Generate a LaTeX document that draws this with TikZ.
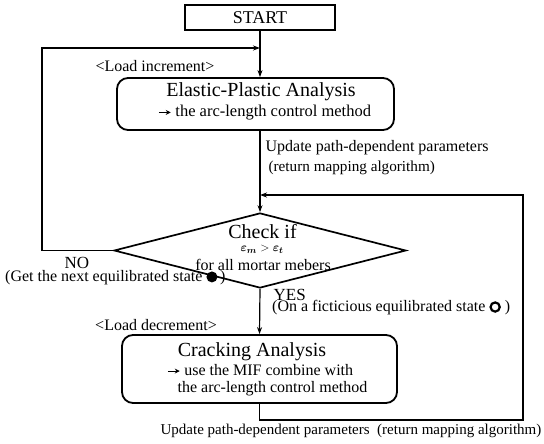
\documentclass[tikz,border=0pt]{standalone}
\usepackage{fontspec}
\setmainfont{Liberation Serif}
\usepackage{amsmath}
\usetikzlibrary{shapes.geometric,arrows.meta}
\newcommand{\myrarr}{\tikz[baseline=-0.6ex]\draw[line width=1.1pt,-{Stealth[length=5pt,width=5pt]}] (0pt,0pt) -- (12pt,0pt);}
\newcommand{\myfdot}{\tikz[baseline=-0.6ex]\fill (0pt,0pt) circle[radius=5.5pt];}
\newcommand{\myodot}{\tikz[baseline=-0.6ex]\draw[line width=2.2pt] (0pt,0pt) circle[radius=4.6pt];}
\begin{document}
\begin{tikzpicture}[x=1pt,y=-1pt,
  line width=1.2pt,
  arr/.style={-{Stealth[length=7pt,width=5pt]}},
  rbox/.style={draw, line width=1.8pt, rounded corners=11pt, inner sep=0pt},
  txt/.style={inner sep=0pt, font=\fontsize{16}{18}\selectfont},
  stxt/.style={inner sep=0pt, font=\fontsize{15.2}{17}\selectfont},
  big/.style={inner sep=0pt, font=\fontsize{20}{22}\selectfont},
]
\useasboundingbox (0,0) rectangle (544,444);
% nodes
\node[draw, line width=1.2pt, minimum width=150pt, minimum height=25pt, inner sep=0pt,
      font=\fontsize{18}{20}\selectfont] (start) at (260,17.5) {START};
\node[rbox, minimum width=277pt, minimum height=52pt] (epa) at (255.5,104) {};
\node[big] (epa1) at (261,92) {Elastic-Plastic Analysis};
\node[inner sep=0pt, font=\fontsize{16.5}{18}\selectfont, anchor=west] (epa2) at (158,113) {\myrarr\ the arc-length control method};
\node[draw, diamond, line width=1.7pt, minimum width=292pt, minimum height=75pt, inner sep=0pt] (chk) at (260,250.5) {};
\node[big] (chk1) at (262.5,232) {Check if};
\node[inner sep=0pt, font=\fontsize{13}{14}\selectfont] (chk2) at (262,249.5) {$\boldsymbol{\varepsilon}_{\boldsymbol{m}} > \boldsymbol{\varepsilon}_{\boldsymbol{t}}$};
\node[txt] (chk3) at (263,265) {for all mortar mebers};
\node[rbox, minimum width=275pt, minimum height=68pt] (crk) at (259.5,369) {};
\node[big] (crk1) at (252,352) {Cracking Analysis};
\node[txt, anchor=west] (crk2) at (167,370) {\myrarr\ use the MIF combine with};
\node[txt, anchor=west] (crk3) at (177,389) {the arc-length control method};
% labels
\node[txt] (linc) at (155,66) {<Load increment>};
\node[txt, anchor=west] (up1) at (265,148) {Update path-dependent parameters};
\node[stxt, anchor=west] (up2) at (268,167.5) {(return mapping algorithm)};
\node[inner sep=0pt, font=\fontsize{17}{19}\selectfont] (no) at (77,263) {NO};
\node[txt, anchor=west] (nost) at (5,277.5) {(Get the next equilibrated state \myfdot\,)};
\node[inner sep=0pt, font=\fontsize{17}{19}\selectfont, anchor=west] (yes) at (273,295) {YES};
\node[txt, anchor=west] (yesst) at (272,307.5) {(On a ficticious equilibrated state \myodot\ )};
\node[txt] (ldec) at (156,325) {<Load decrement>};
\node[inner sep=0pt, font=\fontsize{15}{17}\selectfont, anchor=west] (up3) at (160,431) {Update path-dependent parameters\ \ (return mapping algorithm)};
% connector coordinates
\coordinate (lt) at (42,48);
\coordinate (rb) at (523,420);
\coordinate (rt) at (523,195);
% connectors
\draw[arr] (start.south) -- (start.south |- epa.north);
\draw[arr] (start.south |- epa.south) -- (chk.north);
\draw[arr] (chk.south) -- (crk.north);
\draw[arr] (chk.west) -| (lt) -- (start.south |- lt);
\draw[arr] (crk.south) |- (rb) -- (rt) -- (chk.north |- rt);
\end{tikzpicture}
\end{document}
